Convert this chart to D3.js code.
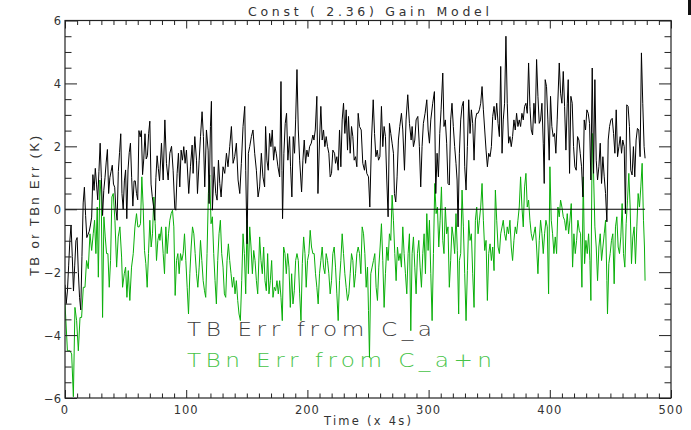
<!DOCTYPE html>
<html><head><meta charset="utf-8">
<script src="https://cdn.jsdelivr.net/npm/d3@7"></script>
<style>
html,body{margin:0;padding:0;background:#fff;}
svg{display:block;}
</style></head>
<body>
<script>
// ---- data ----
const titleText = "Const ( 2.36) Gain Model";
const xTitle = "Time (x 4s)";
const yTitle = "TB or TBn Err (K)";
const legendLabels = ["TB Err from C_a", "TBn Err from C_a+n"];
const xTickValues = [0, 100, 200, 300, 400, 500];
const xTickLabels = ["0", "100", "200", "300", "400", "500"];
const yTickValues = [-6, -4, -2, 0, 2, 4, 6];
const yTickLabels = ["\u22126", "\u22124", "\u22122", "0", "2", "4", "6"];
const zeroLine = [[0, 0], [478.6, 0]];

// TB Err from C_a : [time, value]
const tbErr = [
[0,-2.4],[1,-3.0],[2,-2.6],[3,-1.8],[4,-1.0],[5,-0.5],[6,-1.5],[7,-2.6],[8,-1.8],[9,-1.0],[10,-0.9],[11,-2.0],[12,-2.8],[13,-3.2],[14,-1.5],[15,0.2],[16,0.7],[17,-0.2],[18,-0.9],[19,-0.8],[20,-0.7],[21,-0.5],[22,-0.25],[23,1.1],[24,0.6],[25,1.3],[26,0.8],[27,0.3],[28,1.2],[29,2.1],[30,1.0],[31,-0.2],[32,0.6],[33,1.0],[34,1.5],[35,1.9],[36,0.5],[37,1.0],[38,1.2],[39,1.4],[40,0.8],[41,0.7],[42,0.0],[43,-0.35],[44,1.2],[45,1.8],[46,2.4],[47,0.5],[48,0.0],[49,0.9],[50,1.25],[51,-0.3],[52,1.25],[53,1.8],[54,2.1],[55,1.0],[56,0.1],[57,0.9],[58,0.9],[59,0.5],[60,0.3],[61,2.5],[62,2.3],[63,2.5],[64,1.1],[65,1.6],[66,2.4],[67,1.6],[68,1.7],[69,2.4],[70,2.8],[71,0.8],[72,0.4],[73,0.1],[74,-0.35],[75,1.0],[76,1.7],[77,1.3],[78,0.9],
[79.6,2.1],[81,0.93],[82.4,2.84],[83.7,1.46],[85.1,0.93],[86.5,1.78],[87.9,2.0],[89.2,1.24],[90.6,0.02],[91.4,-0.03],[92.5,1.14],[93.6,1.78],[94.7,0.71],[95.8,1.88],[96.9,1.56],[98,1.99],[99.1,1.46],[100.2,1.88],[102.1,0.5],[103.5,1.35],[104.9,2.04],[105.7,1.14],[107.1,2.31],[108.5,1.56],[109.3,0.5],[110.7,1.56],[111.8,2.31],[113.1,3.1],[114.2,2.31],[115.3,0.71],[116.7,2.52],[118.1,1.88],[118.9,0.18],[120,2.63],[120.8,3.43],[121.6,-0.03],[123,1.35],[124.4,0.5],[125.5,0.29],[126.6,1.56],[127.7,0.82],[128.8,0.39],[130.4,1.35],[131.8,1.14],[133.2,1.78],[134.5,1.35],[135.9,1.99],[137.3,2.63],[138.7,1.46],[140,1.67],[141.4,2.1],[142.8,0.93],[144.2,0.5],[145.5,1.46],[146.9,2.63],[148.3,3.27],[149.1,1.24],[150.2,-1.1],[151.3,1.78],[152.4,1.99],[153.8,2.31],[155.1,2.52],[156.5,1.78],[157.9,1.24],[159.3,0.39],
[160.6,0.71],[162,1.78],[163.3,1.03],[164.7,0.71],[165.5,2.63],[166.6,1.56],[167.7,1.24],[168.8,2.41],[169.9,1.99],[171,2.52],[172.1,1.56],[173.2,1.99],[174.3,1.78],[175.7,1.35],[177.1,1.03],[178.2,4.06],[179,1.24],[179.5,-0.3],[180.6,1.78],[181.7,2.73],[182.8,3.05],[183.9,1.56],[185.3,2.31],[186.1,1.35],[187.2,0.39],[188.3,2.31],[189.4,1.78],[190.3,2.84],[191.4,4.44],[192.5,2.52],[193.6,1.56],[195.2,0.55],[196.3,1.56],[197.4,2.2],[198.5,1.46],[199.6,1.88],[200.7,1.67],[201.8,1.99],[203.2,2.1],[204.5,2.36],[205.4,2.2],[206.5,2.52],[207.8,3.59],[208.7,0.5],[210,2.2],[211.1,3.27],[212.2,2.2],[213.3,2.52],[214.4,1.99],[215.5,2.31],[216.6,1.99],[217.7,1.78],[218.8,1.03],[219.9,1.14],[221,1.88],[222.4,1.78],[223.2,1.46],[224.3,1.67],[225.4,1.24],[226.5,2.52],[227.6,1.35],[228.7,2.84],[229.8,3.37],[230.9,2.41],[232,3.16],[233.1,1.88],[233.9,2.95],[235.3,1.78],[236.4,2.63],[237.5,2.31],[238.6,1.56],[239.7,1.67],[240.8,1.35],[241.9,3.05],
[243,2.63],[244.4,2.52],[245.7,1.46],[247.1,1.24],[247.9,1.56],[249,1.14],[250.4,1.03],[251.5,0.07],[252.9,2.2],[254.3,3.48],[255.4,2.41],[256.5,1.67],[257.6,1.88],[258.7,1.56],[259.8,1.67],[261.1,3.27],[262.2,1.99],[263.3,2.63],[264.4,2.31],[265.5,0.93],[266.6,-0.24],[267.7,2.73],[268.8,2.41],[269.9,2.1],[271,1.78],[271.8,0.5],[272.9,0.23],[274,1.03],[275.1,2.2],[276.2,2.63],[277.6,3.05],[278.7,2.52],[280.1,1.24],[281.4,2.84],[282.8,3.64],[284.2,2.73],[285.6,2.2],[286.4,2.63],[287.5,1.99],[288.6,2.2],[289.7,2.84],[291.1,2.95],[292.4,1.99],[293.5,0.71],[294.6,1.99],[295.7,2.73],[297.1,3.05],[298.5,3.48],[299.6,2.52],[300.7,2.1],[301.8,2.84],[303.4,3.37],[304.8,3.74],[305.9,0.5],[307,1.78],[308.1,1.03],[309.2,2.41],[310.3,3.16],[311.7,4.33],[312.7,2.63],[313.8,2.84],[314.9,2.1],[316,0.82],[317.1,0.77],[318.2,2.84],[319.3,3.37],[320.4,2.63],[321.5,1.99],[322.6,1.46],[323.5,0.93],[324.3,-0.56],
[325.4,1.78],[326.5,2.84],[327.6,3.27],[328.7,3.43],[329.8,1.35],[330.9,0.61],[332,1.99],[333.1,3.48],[334.2,2.41],[335.3,3.16],[336.4,2.73],[337.5,1.56],[338.6,2.84],[339.7,3.05],[340.8,3.05],[341.9,3.16],[343,3.37],[344.1,3.9],[345.2,3.16],[346.3,2.52],[347.4,1.88],[348.5,1.35],[349.6,1.78],[350.7,1.67],[351.8,1.99],[352.9,2.95],[354,3.27],[355.1,2.84],[356.2,3.37],[357.3,2.73],[358.4,2.31],[359.5,4.54],[360.6,1.78],[361.6,2.84],[362.7,3.37],[363.8,5.5],[364.9,3.37],[366,2.1],[367.1,2.31],[368.2,1.99],[369.3,2.31],[370.4,2.84],[371.5,2.52],[372.6,3.05],[373.7,2.63],[374.8,2.84],[375.9,2.63],[377,3.05],[378.1,2.84],[379.2,3.27],[380.3,3.37],[381.4,3.05],[382.5,4.65],[383.6,3.27],[384.7,2.52],[385.8,2.36],[386.9,3.37],[388,2.73],[389.1,4.76],[390.2,3.59],[391.3,2.73],[392.4,2.84],[393.5,3.37],[394.6,2.1],[395.4,0.82],[396.2,4.12],[397.3,3.9],[398.4,2.84],[399.5,1.56],[400.6,3.59],[401.7,2.63],[402.8,2.31],[403.9,2.41],[405,1.78],[406.1,2.84],
[407.8,4.65],[408.9,3.69],[410,3.37],[411.1,4.38],[412.2,3.27],[413.3,1.88],[414.4,3.37],[415.2,4.12],[416.3,1.14],[417.4,3.59],[418.5,3.37],[419.6,1.99],[420.7,1.35],[421.8,1.24],[422.9,2.31],[424,2.2],[425.1,1.78],[426.2,1.35],[427.3,0.39],[428.4,2.84],[429.5,2.52],[430.6,3.16],[431.7,3.05],[432.8,2.73],[433.9,0.93],[435,4.49],[436.1,1.14],[437.2,4.12],[438.3,1.56],[439.4,0.93],[440.5,1.35],[441.6,2.1],[442.7,0.82],[443.8,1.67],[444.9,1.03],[446,0.5],[447.1,-0.4],[448.2,2.2],[449.3,2.63],[450.4,2.84],[451.5,2.89],[452.6,2.41],[453.7,1.78],[454.8,3.16],[455.9,1.67],[457,1.99],[458.1,2.31],[459.2,1.78],[460.2,2.2],[461.4,1.99],[462.4,-0.14],[463.5,3.32],[464.6,3.27],[465.7,2.63],[466.8,1.24],[467.9,1.09],[469,1.99],[470.1,1.03],[471.2,2.2],[472.3,2.57],[473.4,2.52],[474.5,1.67],[475.6,4.97],[476.7,3.37],[477.8,1.99],[478.6,1.62]
];

// TBn Err from C_a+n : [time, value]
const tbnErr = [
[0,-3.0],[2,-4.5],[4.1,-4.5],[5.5,-4.6],[6.9,-5.96],[8.2,-3.12],[9.6,-3.54],[11,-4.5],[12.4,-3.44],[13.7,-3.44],[15.1,-2.48],[16.5,-2.48],[17.8,-1.63],[19.2,-1.89],[20.6,-0.78],[22,-1.31],[23.3,-0.78],[24.4,-0.35],[25.5,-1.41],[26.6,0.07],[27.5,-2.16],[28.8,0.93],[29.9,0.39],[31,-3.44],[32.1,-0.24],[33.2,-0.88],[34.3,-1.41],[35.4,-1.41],[36.5,-2.48],[37.6,-1.63],[38.7,0.39],[39.8,0.5],[41.2,-0.35],[42.6,-1.84],[43.9,-0.88],[45.3,-0.56],[46.7,-1.52],[47.5,-2.48],[48.9,-2.05],[50,-1.84],[51.1,-2.8],[52.2,-1.95],[53.5,-2.9],[54.9,-1.84],[56.3,-1.41],[57.7,-0.56],[59,-0.14],[60.1,-0.56],[61.2,-0.56],[62.3,-0.46],[63.4,1.03],[64.5,0.07],[65.6,-1.31],[66.7,-1.73],[67.8,-2.48],[68.9,-1.41],[70,-0.35],[71.1,-1.2],[72.2,-0.78],[73.3,0.39],[74.4,-0.46],[75.5,-1.63],[76.6,-0.99],[77.7,-0.78],
[78.3,-0.99],[79.6,-0.56],[81,-1.41],[82.1,-2.05],[83.2,-0.56],[84.3,-1.41],[85.4,-0.78],[86.5,-0.35],[87.6,-0.14],[88.7,-0.03],[89.8,-0.56],[90.9,-2.74],[92,-1.63],[93.1,-1.41],[94.2,-2.05],[95.3,-1.41],[96.4,-1.63],[97.5,-1.41],[98.6,-0.78],[99.7,-1.63],[100.8,-2.48],[101.9,-3.33],[103,-2.05],[104.1,-1.2],[105.2,-0.56],[106.3,-0.78],[107.4,-1.41],[108.5,-2.05],[109.6,-2.48],[110.7,-1.84],[111.8,-0.99],[112.9,-1.63],[114,-2.27],[115.1,-2.59],[116.1,-2.8],[117.2,-1.41],[118.3,0.5],[119.4,1.09],[120.5,-0.46],[121.6,-0.24],[122.7,-1.41],[123.8,-2.27],[124.9,-3.01],[126,-1.63],[127.1,-0.78],[128.2,-0.35],[129.3,-1.41],[130.4,-1.84],[131.5,-2.69],[132.6,-2.8],[133.7,-1.63],[134.8,-1.1],[135.9,-1.63],[137,-2.05],[138.1,-2.48],[139.2,-2.16],[140.3,-2.69],[141.4,-2.27],[142.5,-2.9],[143.6,-3.33],[144.7,-3.54],[145.8,-2.27],[146.9,-0.78],[148,-1.41],[149.1,-2.69],[150.2,-0.35],[151.3,-2.05],[152.4,-0.56],[153.5,-1.2],[154.6,-2.05],[155.7,-1.31],[156.8,-1.63],[157.9,-2.27],[159,-2.69],
[160.6,-0.88],[161.7,-1.63],[162.8,-2.05],[163.9,-1.2],[165,-2.27],[166.1,-2.59],[167.2,-1.41],[168.3,-2.69],[169.4,-2.27],[170.5,-1.63],[171.6,-2.8],[172.7,-2.48],[173.8,-2.59],[174.9,-2.27],[176,-2.69],[177.1,-2.27],[178.2,-2.8],[179.3,-3.54],[180.4,-1.2],[181.5,-1.41],[182.6,-2.05],[183.7,-1.41],[184.8,-1.84],[185.9,-3.12],[187,-2.05],[188.1,-3.01],[189.2,-2.59],[190.3,-1.63],[191.4,-1.41],[192.5,-1.63],[193.6,-2.69],[194.7,-3.54],[195.8,-1.73],[196.9,-0.88],[198,-1.41],[199,-2.48],[200.1,-1.63],[201.2,-1.41],[202.3,-0.67],[203.4,-1.2],[204.5,-1.41],[205.6,-1.41],[206.7,-2.05],[207.8,-2.48],[208.9,-3.01],[210,-2.05],[211.1,-1.63],[212.2,-1.2],[213.3,-1.84],[214.4,-2.05],[215.5,-1.41],[216.6,-1.63],[217.7,-2.05],[218.8,-2.69],[219.9,-2.27],[221,-1.41],[222.1,-1.2],[223.2,-1.84],[224.3,-2.69],[225.4,-3.54],[226.5,-2.27],[227.6,-1.63],[228.7,-0.78],[229.8,-1.41],[230.9,-2.05],[232,-2.48],[233.1,-2.9],[234.2,-2.69],[235.3,-2.05],[236.4,-1.41],[237.5,-1.63],[238.6,-2.48],[239.7,-2.05],[240.8,-1.41],[241.9,-1.2],
[243,-1.41],[244.1,-2.05],[245.2,-0.56],[246.3,-0.78],[247.4,-1.41],[248.5,-2.48],[249.6,-1.84],[250.4,-3.22],[251.2,-4.71],[252.3,-2.05],[253.4,-1.84],[254.5,-1.63],[255.6,-1.41],[256.7,-2.48],[257.8,-2.9],[258.9,-1.84],[260,-1.2],[261.1,-0.46],[262.2,-1.63],[263.3,-3.12],[264.4,-2.05],[265.5,-1.2],[266.6,-1.63],[267.7,-0.78],[268.8,-0.99],[269.9,0.45],[271,-0.35],[272.1,-1.41],[273.2,-2.27],[274.3,-1.2],[275.4,-1.63],[276.5,-1.41],[277.6,-1.84],[278.7,-0.56],[279.8,-1.41],[280.9,-2.05],[282,-2.69],[283.1,-1.41],[284.2,-0.78],[285.3,-3.86],[286.4,-1.41],[287.5,-0.88],[288.6,-1.84],[289.7,-2.69],[290.8,-1.41],[291.9,-0.99],[293,-1.84],[294.1,-2.48],[295.2,-1.41],[296.3,-0.78],[297.4,-2.05],[298.5,-0.14],[299.6,-1.31],[300.7,-0.35],[301.8,-2.05],[302.9,-3.54],[304,-1.41],[305.1,0.82],[306.2,-0.14],[307.3,0.07],[308.4,-1.2],[309.5,-0.35],[310.6,0.71],[311.7,-0.99],[312.7,-1.41],[313.8,0.07],[314.9,-0.78],[316,-0.56],[317.1,-2.48],[318.2,-1.63],[319.3,-0.56],[320.4,-0.88],[321.5,-1.41],[322.6,-0.14],[323.7,-1.31],[324.8,-3.33],
[325.4,-1.63],[326.5,-1.41],[327.6,0.61],[328.7,-0.56],[329.8,-2.05],[330.9,-3.54],[332,-1.95],[333.1,-0.35],[334.2,-0.99],[335.3,-0.78],[336.4,-2.05],[337.5,-3.12],[338.6,-0.35],[339.7,0.07],[340.8,-0.78],[341.9,-0.35],[343,0.07],[344.1,0.82],[345.2,-0.35],[346.3,-1.31],[347.4,-0.99],[348.5,-2.9],[349.6,-1.41],[350.7,-1.1],[351.8,-1.63],[352.9,-1.2],[354,-1.95],[355.1,0.61],[356.2,-0.35],[357.3,-1.2],[358.4,-1.41],[359.5,-0.78],[360.6,-0.56],[361.6,-0.35],[362.7,-0.78],[363.8,-0.99],[364.9,-0.56],[366,-0.78],[367.1,-0.35],[368.2,-1.2],[369.3,-1.63],[370.4,-0.99],[371.5,-0.56],[372.6,-0.78],[373.7,-0.35],[374.8,0.07],[375.9,1.03],[377,0.07],[378.1,-0.56],[379.2,0.71],[380.3,1.14],[381.4,0.07],[382.5,0.29],[383.6,-0.35],[384.7,-0.78],[385.8,-0.99],[386.9,-0.78],[388,-0.56],[389.1,-1.2],[390.2,-2.05],[391.3,-0.99],[392.4,-0.35],[393.5,-0.78],[394.6,-1.41],[395.7,-0.78],[396.8,-0.35],[397.9,-0.56],[399,-2.69],[400.1,1.35],[401.2,-0.35],[402.3,-0.78],[403.4,-1.41],[404.5,-0.88],[405.6,-1.41],[406.7,0.07],
[407.8,-0.24],[408.9,0.29],[410,0.07],[411.1,-0.24],[412.2,-0.35],[413.3,-0.67],[414.4,-0.14],[415.5,-0.78],[416.6,-0.35],[417.7,0.18],[418.8,-1.84],[419.9,-0.78],[421,-1.41],[422.1,-0.99],[423.2,-0.35],[424.3,-0.67],[425.4,-0.78],[426.5,-2.48],[427.6,1.03],[428.7,-1.73],[429.8,-0.99],[430.9,-1.41],[432,-0.78],[433.1,-1.63],[433.9,-2.9],[435,2.41],[436.1,1.14],[437.2,-0.56],[438.3,-1.2],[439.4,-2.27],[440.5,-1.2],[441.6,-0.78],[442.7,-1.63],[443.8,-1.2],[444.9,-0.78],[446,-0.35],[447.1,-2.27],[447.6,-3.33],[448.7,-1.73],[449.8,-1.41],[450.9,-0.99],[452,-0.78],[453.1,-2.37],[454.2,-0.56],[455.3,-0.24],[456.4,-1.2],[457.5,-1.41],[458.6,-0.88],[459.7,0.18],[460.8,-1.41],[461.9,-1.84],[463,-0.46],[464.1,0.29],[465.2,1.14],[466.3,0.07],[467.4,-1.73],[468.5,-0.88],[469.6,-0.56],[470.7,-1.73],[471.8,-0.56],[472.9,0.5],[474,0.07],[475.1,0.71],[476.2,1.46],[477.3,-0.35],[478.1,-1.2],[478.6,-2.27]
];

// ---- drawing ----
const W = 691, H = 430;
const L = 65, R = 671, T = 20.5, B = 398;
const x = d3.scaleLinear().domain([0, 500]).range([L, R]);
const y = d3.scaleLinear().domain([-6, 6]).range([B, T]);
const greenLine = "rgb(10,175,10)";
const greenText = "rgb(70,195,70)";

const svg = d3.select("body").append("svg").attr("width", W).attr("height", H);

svg.append("defs").append("clipPath").attr("id", "clip")
  .append("rect").attr("x", L).attr("y", T).attr("width", R - L).attr("height", B - T);

// legend texts (drawn first so the data lines pass over them, as in the reference)
const legendFont = "'DejaVu Sans', sans-serif";
const stretch = 1.22;
function legendText(label, yPos, fill, width) {
  svg.append("text")
    .attr("transform", `translate(187,${yPos}) scale(${stretch},1)`)
    .attr("font-family", legendFont).attr("font-weight", 200).attr("font-size", 19)
    .attr("fill", fill)
    .attr("textLength", width / stretch).attr("lengthAdjust", "spacing")
    .text(label);
}
legendText(legendLabels[0], 336, "#3a3a3a", 245);
legendText(legendLabels[1], 367, greenText, 305);

const line = d3.line().x(d => x(d[0])).y(d => y(d[1]));
const gData = svg.append("g").attr("clip-path", "url(#clip)");
gData.append("path").datum(tbnErr).attr("d", line)
  .attr("fill", "none").attr("stroke", greenLine).attr("stroke-width", 1);
gData.append("path").datum(tbErr).attr("d", line)
  .attr("fill", "none").attr("stroke", "#000").attr("stroke-width", 1);
gData.append("path").datum(zeroLine).attr("d", line)
  .attr("fill", "none").attr("stroke", "#000").attr("stroke-width", 1);

// axes (ticks inside)
const xMinor = d3.range(0, 501, 10).filter(v => v % 100 !== 0);
const yMinor = d3.range(-6, 6.01, 0.5).filter(v => Math.abs(v % 2) > 1e-9);
function styleAxis(g) {
  g.selectAll("text").remove();
  g.select(".domain").remove();
  g.selectAll("line").attr("stroke", "#222").attr("stroke-width", 1);
}
svg.append("g").attr("transform", `translate(0,${B})`)
  .call(d3.axisBottom(x).tickValues(xTickValues).tickSize(-8).tickFormat("")).call(styleAxis);
svg.append("g").attr("transform", `translate(0,${B})`)
  .call(d3.axisBottom(x).tickValues(xMinor).tickSize(-4.5).tickFormat("")).call(styleAxis);
svg.append("g").attr("transform", `translate(0,${T})`)
  .call(d3.axisTop(x).tickValues(xTickValues).tickSize(-8).tickFormat("")).call(styleAxis);
svg.append("g").attr("transform", `translate(0,${T})`)
  .call(d3.axisTop(x).tickValues(xMinor).tickSize(-4.5).tickFormat("")).call(styleAxis);
svg.append("g").attr("transform", `translate(${L},0)`)
  .call(d3.axisLeft(y).tickValues(yTickValues).tickSize(-12).tickFormat("")).call(styleAxis);
svg.append("g").attr("transform", `translate(${L},0)`)
  .call(d3.axisLeft(y).tickValues(yMinor).tickSize(-6.5).tickFormat("")).call(styleAxis);
svg.append("g").attr("transform", `translate(${R},0)`)
  .call(d3.axisRight(y).tickValues(yTickValues).tickSize(-12).tickFormat("")).call(styleAxis);
svg.append("g").attr("transform", `translate(${R},0)`)
  .call(d3.axisRight(y).tickValues(yMinor).tickSize(-6.5).tickFormat("")).call(styleAxis);

// frame
svg.append("rect").attr("x", L).attr("y", T).attr("width", R - L).attr("height", B - T)
  .attr("fill", "none").attr("stroke", "#222").attr("stroke-width", 1.2);

const labelFont = "'DejaVu Sans', sans-serif";
svg.append("g").selectAll("text").data(xTickValues).join("text")
  .attr("x", d => x(d)).attr("y", 414)
  .attr("text-anchor", "middle")
  .attr("font-family", labelFont).attr("font-size", 11.5).attr("fill", "#333")
  .attr("letter-spacing", 1)
  .text((d, i) => xTickLabels[i]);
svg.append("g").selectAll("text").data(yTickValues).join("text")
  .attr("x", 61).attr("y", d => y(d) + 4.5)
  .attr("text-anchor", "end")
  .attr("font-family", labelFont).attr("font-size", 11.5).attr("fill", "#333")
  .text((d, i) => yTickLabels[i]);

svg.append("text").attr("x", 248).attr("y", 16)
  .attr("font-family", labelFont).attr("font-size", 12.5).attr("fill", "#333")
  .attr("textLength", 241).attr("lengthAdjust", "spacing")
  .text(titleText);
svg.append("text").attr("x", 324).attr("y", 425)
  .attr("font-family", labelFont).attr("font-size", 11.5).attr("fill", "#333")
  .attr("textLength", 87).attr("lengthAdjust", "spacing")
  .text(xTitle);
svg.append("text").attr("transform", "translate(39,276) rotate(-90)")
  .attr("font-family", "'Liberation Sans Narrow','Liberation Sans',sans-serif").attr("font-size", 13).attr("fill", "#333")
  .attr("textLength", 140).attr("lengthAdjust", "spacing")
  .text(yTitle);

// small mark at the top-right corner of the reference picture
svg.append("rect").attr("x", 688).attr("y", 0).attr("width", 3).attr("height", 15).attr("fill", "#111");
</script>
</body></html>
